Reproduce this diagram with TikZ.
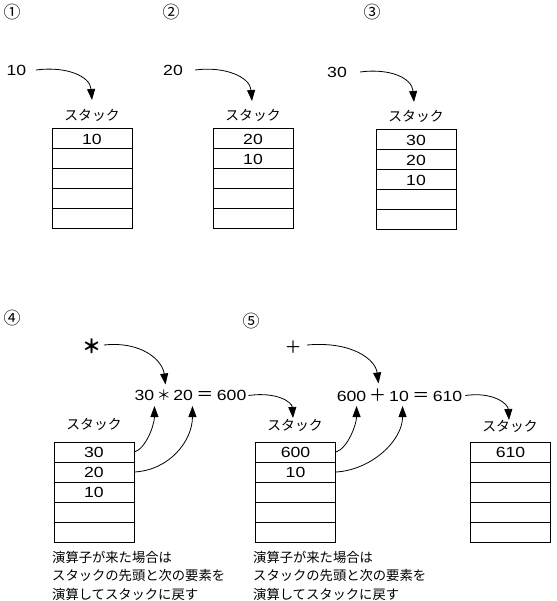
\documentclass[tikz,border=0pt]{standalone}
\usepackage{fontspec}
\setmainfont{Noto Sans CJK JP}
\newfontfamily\jpf{Noto Sans CJK JP}
\newfontfamily\dgf[FakeStretch=1.2]{Liberation Sans}
\usetikzlibrary{arrows.meta}
\newcommand\symb[3]{\makebox[#1]{\jpf\fontsize{#2}{20}\selectfont #3}}
\newcommand\mystack[8]{%
  \node[cell] (#1-1) at (#2,#3+10) {#4};
  \node[cell] (#1-2) at (#2,#3+30) {#5};
  \node[cell] (#1-3) at (#2,#3+50) {#6};
  \node[cell] (#1-4) at (#2,#3+70) {#7};
  \node[cell] (#1-5) at (#2,#3+90) {#8};
}
\begin{document}
\begin{tikzpicture}[x=1pt,y=-1pt,
  jp/.style={font=\jpf\fontsize{13.8}{16}\selectfont, inner sep=0pt},
  num/.style={font=\jpf\fontsize{17}{20}\selectfont, inner sep=0pt},
  dg/.style={font=\dgf\fontsize{14.7}{17}\selectfont, inner sep=0pt},
  cell/.style={draw=black, line width=1pt, minimum width=80pt, minimum height=20pt, inner sep=0pt, font=\dgf\fontsize{14.7}{17}\selectfont},
  arr/.style={-{Triangle[length=11pt,width=8pt]}, line width=0.8pt},
  note/.style={font=\jpf\fontsize{13.3}{18.5}\selectfont, align=left, inner sep=0pt, anchor=north west}
]
\useasboundingbox[fill=white] (0,0) rectangle (556,601);

% step numbers
\node[num] (c1) at (12,12) {①};
\node[num] (c2) at (171,12) {②};
\node[num] (c3) at (372,12) {③};
\node[num] (c4) at (12,318) {④};
\node[num] (c5) at (251,321) {⑤};

% top row
\node[dg] (v1) at (16.5,70) {10};
\node[dg] (v2) at (173,70) {20};
\node[dg] (v3) at (337,72) {30};

\node[jp] (lab1) at (92,115) {スタック};
\node[jp] (lab2) at (253,115) {スタック};
\node[jp] (lab3) at (416,116) {スタック};

\mystack{s1}{92}{129}{10}{}{}{}{}
\mystack{s2}{253}{129}{20}{10}{}{}{}
\mystack{s3}{416}{130}{30}{20}{10}{}{}

\draw[arr] ([shift={(19.5,0)}]v1.center) .. controls +(30,-4) and +(-2,-24) .. ([shift={(0,-15)}]lab1.center);
\draw[arr] ([shift={(22,0)}]v2.center) .. controls +(30,-4) and +(-2,-24) .. ([shift={(-1,-14)}]lab2.center);
\draw[arr] ([shift={(23,0)}]v3.center) .. controls +(30,-4) and +(-2,-24) .. ([shift={(-2,-14)}]lab3.center);

% bottom row
\node[font=\jpf\bfseries\fontsize{19}{22}\selectfont, inner sep=0pt] (op1) at (92,346) {＊};
\node[font=\jpf\fontsize{17}{20}\selectfont, inner sep=0pt] (op2) at (293,347) {＋};

\node[dg] (eq1) at (190.5,395.5) {30\symb{19pt}{14}{＊}20\symb{24pt}{17}{＝}600};
\node[dg] (eq2) at (399.5,395.5) {600\symb{23pt}{17}{＋}10\symb{24pt}{17}{＝}610};

\node[jp] (lab4) at (94,424) {スタック};
\node[jp] (lab5) at (295,425) {スタック};
\node[jp] (lab6) at (510,426) {スタック};

\mystack{s4}{94}{442}{30}{20}{10}{}{}
\mystack{s5}{295.5}{442}{600}{10}{}{}{}
\mystack{s6}{510.5}{442}{610}{}{}{}{}

% operator arrows
\draw[arr] ([shift={(12,-1)}]op1.center) .. controls +(38,-4) and +(-3,-24) .. ([shift={(-25,-11)}]eq1.center);
\draw[arr] ([shift={(14,-2)}]op2.center) .. controls +(45,-4) and +(-3,-24) .. ([shift={(-21,-12)}]eq2.center);

% operands up
\draw[arr] (s4-1.east) .. controls +(12,-4) and +(0,18) .. ([shift={(20,10.5)}]eq1.west);
\draw[arr] (s4-2.east) .. controls +(35,-2) and +(0,35) .. ([shift={(58,10.5)}]eq1.west);
\draw[arr] (s5-1.east) .. controls +(12,-4) and +(0,18) .. ([shift={(20,10.5)}]eq2.west);
\draw[arr] (s5-2.east) .. controls +(35,-2) and +(0,35) .. ([shift={(66,10.5)}]eq2.west);

% results down
\draw[arr] ([shift={(2,0)}]eq1.east) .. controls +(28,-4) and +(-1,-16) .. ([shift={(-2,-7)}]lab5.center);
\draw[arr] ([shift={(3,0)}]eq2.east) .. controls +(28,-4) and +(-1,-16) .. ([shift={(-1,-6)}]lab6.center);

% notes
\node[note] (n1) at (52,551) {演算子が来た場合は\\スタックの先頭と次の要素を\\演算してスタックに戻す};
\node[note] (n2) at (253,551) {演算子が来た場合は\\スタックの先頭と次の要素を\\演算してスタックに戻す};
\end{tikzpicture}
\end{document}
